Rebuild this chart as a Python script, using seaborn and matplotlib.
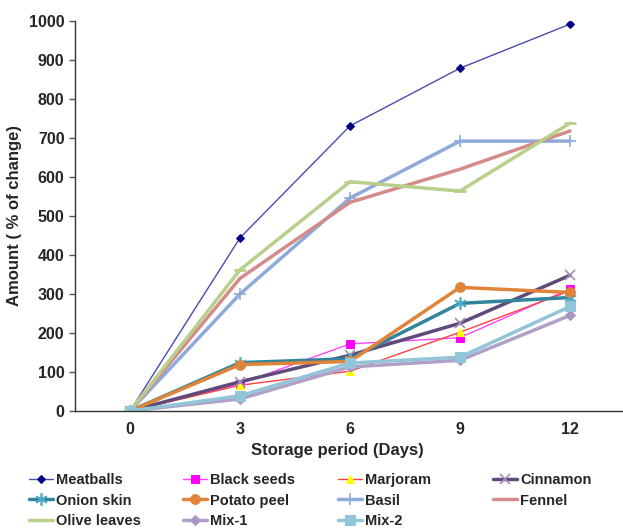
import matplotlib
matplotlib.use("Agg")
import matplotlib.pyplot as plt
import seaborn as sns
import pandas as pd
from matplotlib.ticker import FixedLocator

sns.set_theme(style="white")
plt.rcParams['font.family'] = ['Liberation Sans', 'DejaVu Sans']
plt.rcParams['font.weight'] = 'bold'

days = [0, 3, 6, 9, 12]
meatballs = [0, 444, 731, 879, 992]
black_seeds = [0, 70, 172, 188, 313]
marjoram = [0, 66, 102, 202, 308]
cinnamon = [0, 75, 143, 225, 348]
onion_skin = [0, 124, 134, 276, 291]
potato_peel = [0, 119, 127, 317, 304]
basil = [0, 300, 546, 692, 692]
fennel = [0, 340, 535, 620, 718]
olive_leaves = [0, 362, 588, 564, 738]
mix1 = [0, 31, 113, 130, 245]
mix2 = [0, 39, 123, 138, 268]

series = [
    ("Meatballs", meatballs),
    ("Black seeds", black_seeds),
    ("Marjoram", marjoram),
    ("Cinnamon", cinnamon),
    ("Onion skin", onion_skin),
    ("Potato peel", potato_peel),
    ("Basil", basil),
    ("Fennel", fennel),
    ("Olive leaves", olive_leaves),
    ("Mix-1", mix1),
    ("Mix-2", mix2),
]

styles = {
    "Meatballs": dict(color="#4B4BB0", lw=1.0, marker="D", ms=4.5, mfc="#000080", mec="#000080"),
    "Black seeds": dict(color="#FF44FF", lw=1.0, marker="s", ms=5.5, mfc="#FF00FF", mec="#FF00FF"),
    "Marjoram": dict(color="#FF4040", lw=1.0, marker="^", ms=6, mfc="#FFFF00", mec="#FFFF00"),
    "Cinnamon": dict(color="#604A7B", lw=2.5, marker="x", ms=7, mfc="#A090B8", mec="#A090B8", mew=1.2),
    "Onion skin": dict(color="#31849B", lw=2.5, marker=(6, 2, 0), ms=9, mfc="#4BACC6", mec="#4BACC6", mew=1.2),
    "Potato peel": dict(color="#E0843A", lw=2.5, marker="o", ms=7, mfc="#E0843A", mec="#E0843A"),
    "Basil": dict(color="#8EAADB", lw=2.5, marker="+", ms=9, mfc="#8EAADB", mec="#8EAADB", mew=1.2),
    "Fennel": dict(color="#D48C8A", lw=2.5, marker=None),
    "Olive leaves": dict(color="#B8D08C", lw=2.5, marker="_", ms=8, mec="#B8D08C", mew=2),
    "Mix-1": dict(color="#B09FC6", lw=2.5, marker="D", ms=5.5, mfc="#A896C0", mec="#A896C0"),
    "Mix-2": dict(color="#93C5D8", lw=2.5, marker="s", ms=7, mfc="#93C5D8", mec="#93C5D8"),
}

df = pd.DataFrame({"day": days * len(series),
                   "series": [n for n, v in series for _ in v],
                   "value": [x for n, v in series for x in v]})

fig = plt.figure(figsize=(6.23, 5.32), dpi=100)
ax = fig.add_axes([75/623, 1 - 411/532, 550/623, 390/532])

handles = {}
for name, _ in series:
    st = dict(styles[name])
    color = st.pop("color")
    lw = st.pop("lw")
    sub = df[df["series"] == name]
    sns.lineplot(data=sub, x="day", y="value", ax=ax, color=color, linewidth=lw,
                 label=name, legend=False, **st)
    handles[name] = ax.lines[-1]

ax.set_xlim(-1.5, 13.5)
ax.set_ylim(0, 1000)
ax.set_xticks(days)
ax.set_xticklabels([str(d) for d in days], fontsize=11.5, fontweight='bold')
ax.xaxis.set_minor_locator(FixedLocator([-1.5, 1.5, 4.5, 7.5, 10.5, 13.5]))
ax.tick_params(axis='x', which='major', length=0, pad=8)
ax.tick_params(axis='x', which='minor', length=5, width=1, color='#555555', direction='out')
ax.set_yticks(range(0, 1001, 100))
ax.set_yticklabels([str(v) for v in range(0, 1001, 100)], fontsize=11.5, fontweight='bold')
ax.tick_params(axis='y', length=4.5, width=1, color='#555555', direction='out', pad=3, left=True)
for s in ["top", "right"]:
    ax.spines[s].set_visible(False)
for s in ["left", "bottom"]:
    ax.spines[s].set_color("#333333")
    ax.spines[s].set_linewidth(1.0)
ax.set_xlabel("Storage period (Days)", fontsize=12, fontweight='bold', labelpad=2)
ax.xaxis.set_label_coords((337 - 75) / 550, -0.082)
ax.set_ylabel("Amount ( % of change)", fontsize=12, fontweight='bold')
ax.yaxis.set_label_coords((22 - 75) / 550, 0.5)

columns = [["Meatballs", "Onion skin", "Olive leaves"],
           ["Black seeds", "Potato peel", "Mix-1"],
           ["Marjoram", "Basil", "Mix-2"],
           ["Cinnamon", "Fennel"]]
col_x = [29, 183, 338, 493]
for names, cx in zip(columns, col_x):
    leg = fig.legend([handles[n] for n in names], names, loc="upper left",
                     bbox_to_anchor=(cx / 623, 1 - 473 / 532), ncol=1, frameon=False,
                     prop={'weight': 'bold', 'size': 10.5}, handlelength=1.65,
                     handletextpad=0.2, labelspacing=0.45, borderaxespad=0, borderpad=0)

fig.savefig("out.png", dpi=100)
